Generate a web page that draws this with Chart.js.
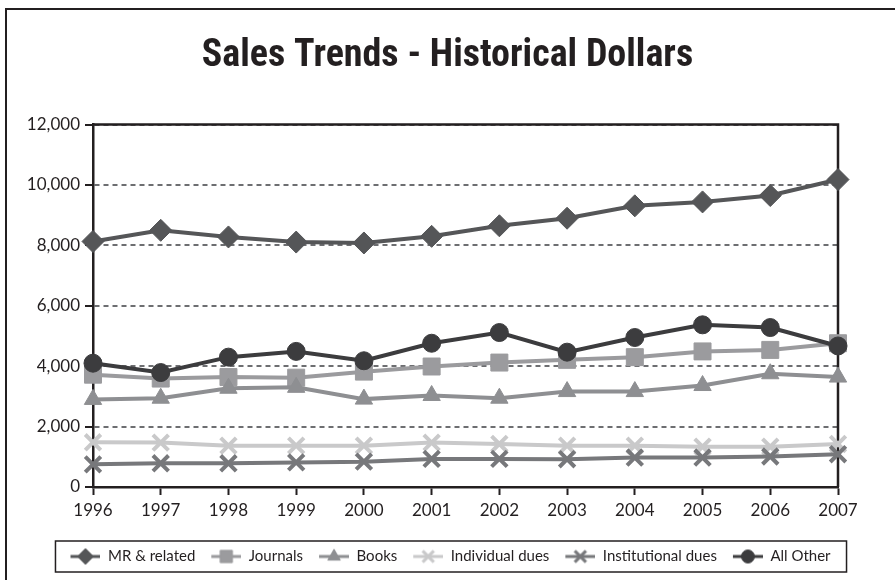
<!DOCTYPE html>
<html>
<head>
<meta charset="utf-8">
<script src="https://cdn.jsdelivr.net/npm/chart.js@4.4.1/dist/chart.umd.min.js"></script>
<style>
  html, body { margin: 0; padding: 0; background: #fff; }
</style>
</head>
<body>
<canvas id="salesChart" width="895" height="580"></canvas>
<script>
const years = ['1996', '1997', '1998', '1999', '2000', '2001', '2002', '2003', '2004', '2005', '2006', '2007'];
const mrRelated = [8130, 8500, 8280, 8110, 8080, 8300, 8650, 8900, 9310, 9440, 9650, 10180];
const journals = [3720, 3590, 3640, 3620, 3820, 3990, 4120, 4210, 4300, 4490, 4540, 4760];
const books = [2900, 2940, 3270, 3300, 2910, 3030, 2940, 3160, 3160, 3360, 3750, 3640];
const individualDues = [1480, 1470, 1370, 1370, 1370, 1470, 1425, 1370, 1370, 1335, 1335, 1425];
const institutionalDues = [750, 785, 785, 815, 840, 930, 930, 920, 975, 975, 1010, 1085];
const allOther = [4100, 3790, 4300, 4490, 4180, 4760, 5115, 4465, 4950, 5370, 5280, 4670];
const yTicks = [0, 2000, 4000, 6000, 8000, 10000, 12000];

const ink = '#231f20';
const tickFont = "Lato, 'Open Sans', sans-serif";

function series(label, data, color, style, radius, borderWidth) {
    return {
        label: label,
        data: data,
        borderColor: color,
        backgroundColor: color,
        borderWidth: 4,
        pointStyle: style,
        pointRadius: radius,
        pointHoverRadius: radius,
        pointBackgroundColor: color,
        pointBorderColor: color,
        pointBorderWidth: borderWidth,
        tension: 0
    };
}

const datasets = [
    series('MR & related', mrRelated, '#555658', 'rectRot', 11, 1),
    series('Journals', journals, '#9b9b9e', 'rect', 12, 1),
    series('Books', books, '#8e8f92', 'triangle', 10, 1),
    series('Individual dues', individualDues, '#c9c9ca', 'crossRot', 11, 4),
    series('Institutional dues', institutionalDues, '#77787b', 'crossRot', 11, 4),
    series('All Other', allOther, '#3c3c3e', 'circle', 9, 1)
];
// later series sit on top, as in the original
datasets.forEach((ds, i) => { ds.order = datasets.length - i; });

// small line + marker swatch for the legend (6px blank on the left for spacing)
const ICON_W = 36;
function legendIcon(ds) {
    const c = document.createElement('canvas');
    c.width = ICON_W; c.height = 18;
    const g = c.getContext('2d');
    g.strokeStyle = ds.borderColor;
    g.lineWidth = 3;
    g.beginPath(); g.moveTo(6, 9); g.lineTo(36, 9); g.stroke();
    g.fillStyle = ds.pointBackgroundColor;
    g.strokeStyle = ds.pointBorderColor;
    g.lineWidth = ds.pointStyle === 'crossRot' ? 3 : 1;
    Chart.helpers.drawPoint(g, {
        pointStyle: ds.pointStyle,
        radius: ds.pointRadius * 0.72,
        rotation: 0,
        borderWidth: g.lineWidth
    }, 21, 9);
    return c;
}

const pagePlugin = {
    id: 'pageFrame',
    beforeDraw(chart) {
        const ctx = chart.ctx;
        ctx.save();
        ctx.fillStyle = '#fff';
        ctx.fillRect(0, 0, chart.width, chart.height);
        ctx.strokeStyle = ink;
        ctx.lineWidth = 2;
        ctx.beginPath();
        ctx.moveTo(6, chart.height);
        ctx.lineTo(6, 9);
        ctx.lineTo(chart.width, 9);
        ctx.stroke();
        ctx.restore();
    },
    beforeDatasetsDraw(chart) {
        const a = chart.chartArea, ctx = chart.ctx;
        ctx.save();
        ctx.strokeStyle = ink;
        ctx.lineWidth = 2.5;
        ctx.beginPath();
        ctx.moveTo(a.left, a.top);
        ctx.lineTo(a.right, a.top);
        ctx.lineTo(a.right, a.bottom);
        ctx.stroke();
        ctx.restore();
    },
    afterDraw(chart) {
        const lg = chart.legend, ctx = chart.ctx;
        if (!lg || !lg.legendHitBoxes.length) return;
        const boxes = lg.legendHitBoxes;
        const left = Math.min(...boxes.map(b => b.left)) - 9;
        const right = Math.max(...boxes.map(b => b.left + b.width)) + 16;
        const top = Math.min(...boxes.map(b => b.top)) - 8;
        const bottom = Math.max(...boxes.map(b => b.top + b.height)) + 8;
        ctx.save();
        ctx.strokeStyle = ink;
        ctx.lineWidth = 1.5;
        ctx.strokeRect(left, top, right - left, bottom - top);
        ctx.restore();
    }
};

new Chart(document.getElementById('salesChart').getContext('2d'), {
    type: 'line',
    data: { labels: years, datasets: datasets },
    options: {
        responsive: false,
        animation: false,
        layout: { padding: { left: 10, right: 10, top: 0, bottom: 6 } },
        scales: {
            x: {
                offset: false,
                afterFit(scale) { scale.height = 52; },
                grid: {
                    drawOnChartArea: false,
                    drawTicks: true,
                    tickLength: 8,
                    tickColor: ink,
                    tickWidth: 2
                },
                border: { color: ink, width: 2.5 },
                ticks: { color: ink, padding: 5, font: { family: tickFont, size: 17 }, maxRotation: 0 }
            },
            y: {
                min: 0,
                max: 12000,
                afterFit(scale) { scale.width = 83; },
                afterBuildTicks(scale) { scale.ticks = yTicks.map(v => ({ value: v })); },
                grid: {
                    color: '#6d6e71',
                    lineWidth: 2,
                    tickLength: 8,
                    tickColor: ink,
                    tickWidth: 2,
                    tickBorderDash: []
                },
                border: { color: ink, width: 2.5, dash: [5, 4] },
                ticks: {
                    color: ink,
                    padding: 5,
                    font: { family: tickFont, size: 17 },
                    callback: v => v.toLocaleString('en-US')
                }
            },
            // empty right-hand spacer so the title and legend stay centred on the page
            spacer: {
                type: 'linear',
                position: 'right',
                afterFit(scale) { scale.width = 47; },
                ticks: { display: false },
                grid: { display: false, drawTicks: false },
                border: { display: false }
            }
        },
        plugins: {
            title: {
                display: true,
                text: 'Sales Trends - Historical Dollars',
                color: ink,
                font: { family: "'Liberation Sans Narrow', 'Roboto Condensed', Lato, sans-serif", size: 38, weight: 'bold' },
                padding: { top: 34, bottom: 45 }
            },
            legend: {
                position: 'bottom',
                labels: {
                    usePointStyle: true,
                    pointStyleWidth: ICON_W,
                    color: ink,
                    padding: 10,
                    font: { family: tickFont, size: 15 },
                    generateLabels: chart => chart.data.datasets.map((ds, i) => ({
                        text: ds.label,
                        pointStyle: legendIcon(ds),
                        fillStyle: ds.borderColor,
                        strokeStyle: ds.borderColor,
                        lineWidth: 0,
                        fontColor: ink,
                        hidden: false,
                        datasetIndex: i
                    }))
                }
            },
            tooltip: { enabled: false }
        }
    },
    plugins: [pagePlugin]
});
</script>
</body>
</html>
